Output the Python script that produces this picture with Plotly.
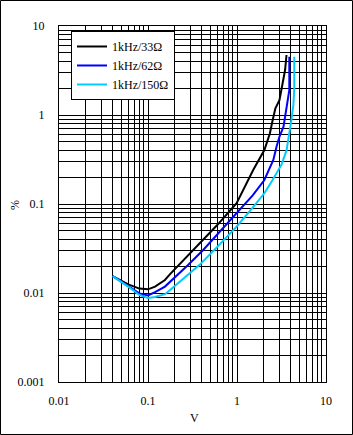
import plotly.graph_objects as go

# ---- data ----
names = ["1kHz/33Ω", "1kHz/62Ω", "1kHz/150Ω"]
colors = ["#000000", "#0000FF", "#00CCFF"]

x_33 = [0.04, 0.06, 0.08, 0.09, 0.1, 0.12, 0.155, 0.177, 0.28, 0.415, 0.6, 0.99, 1.52, 2.03, 2.34, 2.5, 2.7, 3.0, 3.16, 3.47, 3.6]
y_33 = [0.0155, 0.0125, 0.0112, 0.011, 0.011, 0.0118, 0.014, 0.0163, 0.026, 0.0394, 0.058, 0.102, 0.241, 0.404, 0.62, 0.85, 1.19, 1.47, 1.91, 3.2, 4.72]

x_62 = [0.04, 0.06, 0.08, 0.1, 0.12, 0.155, 0.177, 0.28, 0.417, 0.6, 0.99, 1.5, 2.03, 2.56, 2.78, 3.0, 3.33, 3.6, 3.87, 3.87]
y_62 = [0.0155, 0.012, 0.0099, 0.0094, 0.0102, 0.0118, 0.0133, 0.0205, 0.0304, 0.0453, 0.0785, 0.125, 0.186, 0.312, 0.44, 0.57, 0.74, 1.14, 1.9, 4.5]

x_150 = [0.04, 0.06, 0.08, 0.1, 0.12, 0.155, 0.177, 0.28, 0.38, 0.6, 0.99, 1.5, 2.03, 2.5, 2.78, 3.18, 3.6, 3.9, 4.1, 4.3, 4.4, 4.4]
y_150 = [0.0155, 0.0118, 0.0095, 0.0088, 0.009, 0.0097, 0.0108, 0.016, 0.0207, 0.033, 0.0556, 0.091, 0.132, 0.185, 0.221, 0.28, 0.4, 0.62, 0.9, 1.3, 2.0, 4.5]

x_labels = {0.01: "0.01", 0.1: "0.1", 1: "1", 10: "10"}
y_labels = {0.001: "0.001", 0.01: "0.01", 0.1: "0.1", 1: "1", 10: "10"}


def grid_vals(lo_exp, hi_exp):
    vals = []
    for e in range(lo_exp, hi_exp):
        for m in range(1, 10):
            vals.append(round(m * 10 ** e, 6))
    vals.append(10 ** hi_exp)
    return vals


x_vals = grid_vals(-2, 1)
x_text = [x_labels.get(v, "") for v in x_vals]
y_vals = grid_vals(-3, 1)
y_text = [y_labels.get(v, "") for v in y_vals]

FONT = "Liberation Serif"

fig = go.Figure()
for xs, ys, nm, c in [(x_33, y_33, names[0], colors[0]),
                      (x_62, y_62, names[1], colors[1]),
                      (x_150, y_150, names[2], colors[2])]:
    fig.add_trace(go.Scatter(x=xs, y=ys, mode="lines", name=nm,
                             line=dict(color=c, width=2)))

axis_common = dict(
    type="log", showgrid=True, gridcolor="black", gridwidth=1,
    showline=True, linecolor="black", linewidth=1, mirror=True,
    ticks="", zeroline=False,
    tickfont=dict(family=FONT, size=12, color="#000000"),
)

fig.update_layout(
    width=353, height=435,
    margin=dict(l=59, r=27, t=26, b=53, pad=0),
    paper_bgcolor="white", plot_bgcolor="white",
    font=dict(family=FONT, size=12, color="black"),
    xaxis=dict(range=[-2, 1], tickmode="array", tickvals=x_vals, ticktext=x_text,
               ticklabelstandoff=8, **axis_common),
    yaxis=dict(range=[-3, 1], tickmode="array", tickvals=y_vals, ticktext=y_text,
               ticklabelstandoff=11, **axis_common),
    showlegend=True,
    legend=dict(x=0.045, y=0.986, xanchor="left", yanchor="top",
                bgcolor="white", bordercolor="black", borderwidth=1,
                font=dict(family=FONT, size=12, color="black"),
                itemwidth=30, tracegroupgap=0),
    annotations=[
        dict(text="%", x=-0.165, y=0.497, xref="paper", yref="paper",
             xanchor="center", yanchor="middle",
             showarrow=False, textangle=-90, font=dict(family=FONT, size=12)),
        dict(text="V", x=0.506, y=-0.101, xref="paper", yref="paper",
             xanchor="center", yanchor="middle",
             showarrow=False, font=dict(family=FONT, size=12)),
    ],
    shapes=[dict(type="rect", xref="paper", yref="paper",
                 x0=-58.5 / 267, x1=293.5 / 267,
                 y0=-52.5 / 356, y1=381.5 / 356,
                 line=dict(color="black", width=1), layer="above")],
)

fig.write_html("out.html")
